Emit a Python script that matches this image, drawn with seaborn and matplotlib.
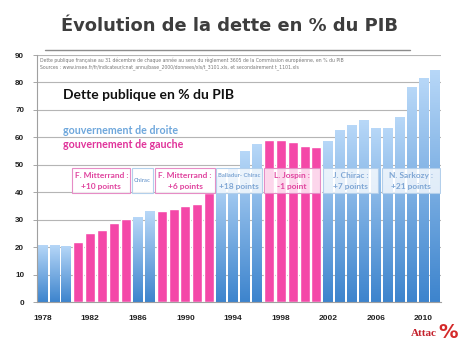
import numpy as np
import pandas as pd
import matplotlib
matplotlib.use("Agg")
import matplotlib.pyplot as plt
import seaborn as sns
from matplotlib.colors import LinearSegmentedColormap
from matplotlib.patches import Rectangle
from matplotlib.lines import Line2D

years = list(range(1978, 2012))
dette = [21.0, 21.0, 20.5, 21.9, 25.2, 26.4, 28.9, 30.4, 31.0, 33.1,
         33.1, 33.9, 35.1, 35.8, 39.8, 46.0, 49.0, 55.0, 57.6, 59.0,
         59.2, 58.5, 57.0, 56.5, 58.6, 62.8, 64.6, 66.2, 63.4, 63.6,
         67.6, 78.4, 81.7, 84.7]
gouv = (["droite"] * 3 + ["gauche"] * 5 + ["droite"] * 2 + ["gauche"] * 5 +
        ["droite"] * 4 + ["gauche"] * 5 + ["droite"] * 10)
year_ticks = list(range(1978, 2012, 4))
y_ticks = list(range(0, 100, 10))

periodes = ["F. Mitterrand :\n+10 points", "Chirac", "F. Mitterrand :\n+6 points",
            "Balladur- Chirac\n+18 points", "L. Jospin :\n-1 point",
            "J. Chirac :\n+7 points", "N. Sarkozy :\n+21 points"]
periode_gouv = ["gauche", "droite", "gauche", "droite", "gauche", "droite", "droite"]
periode_debut = [2.5, 7.48, 9.44, 14.56, 18.6, 23.55, 28.5]
periode_fin = [7.35, 9.3, 14.48, 18.45, 23.3, 28.2, 33.4]

PINK = "#f448a8"
BLUE_TOP = "#b8d8f8"
BLUE_BOT = "#3d84cd"

df = pd.DataFrame({"annee": [str(y) for y in years], "dette": dette, "gouv": gouv})

sns.set_style("white")
plt.rcParams["font.family"] = ["Lato", "DejaVu Sans"]

fig = plt.figure(figsize=(4.6, 3.45), dpi=100)
ax = fig.add_axes([36.7 / 460, 1 - 302.3 / 345, (441.4 - 36.7) / 460, (302.3 - 55) / 345])

sns.barplot(data=df, x="annee", y="dette", hue="gouv", dodge=False,
            palette={"droite": BLUE_BOT, "gauche": PINK}, width=0.84,
            saturation=1, legend=False, ax=ax, zorder=2)

cmap = LinearSegmentedColormap.from_list("bl", [BLUE_BOT, BLUE_TOP])
grad = np.linspace(0, 1, 256).reshape(-1, 1)
for p in list(ax.patches):
    x0, y0 = p.get_x(), p.get_y()
    w, h = p.get_width(), p.get_height()
    idx = int(round(x0 + w / 2))
    if 0 <= idx < len(gouv) and gouv[idx] == "droite" and h > 0:
        p.set_facecolor("none")
        p.set_edgecolor("none")
        im = ax.imshow(grad, extent=[x0, x0 + w, y0, y0 + h], origin="lower",
                       aspect="auto", cmap=cmap, zorder=2)
        im.set_clip_path(p)

ax.set_xlim(-0.5, 33.5)
ax.set_ylim(0, 90)
ax.set_yticks(y_ticks)
ax.set_yticklabels([str(v) for v in y_ticks], fontsize=5.8, fontweight="bold",
                   color="#222222", family="Liberation Sans")
ax.set_xticks([years.index(y) for y in year_ticks])
ax.set_xticklabels([str(y) for y in year_ticks], fontsize=6, fontweight="bold",
                   color="#222222", family="Liberation Sans")
ax.tick_params(axis="x", length=0, pad=9)
ax.tick_params(axis="y", length=3, width=0.6, color="#999999", pad=6, left=True)
ax.yaxis.grid(True, color="#b5b5b5", linewidth=0.8, zorder=0)
ax.set_axisbelow(True)
ax.set_xlabel("")
ax.set_ylabel("")
for s in ["top", "right"]:
    ax.spines[s].set_visible(False)
for s in ["left", "bottom"]:
    ax.spines[s].set_color("#a0a0a0")
    ax.spines[s].set_linewidth(0.8)

# period boxes
for lab, g, a, b in zip(periodes, periode_gouv, periode_debut, periode_fin):
    ec = "#e68cc6" if g == "gauche" else "#b3cfeb"
    tc = "#e0449f" if g == "gauche" else "#7fa6d4"
    ax.add_patch(Rectangle((a, 39.8), b - a, 9.0, facecolor="white", alpha=0.78,
                           edgecolor="none", zorder=3))
    ax.add_patch(Rectangle((a, 39.8), b - a, 9.0, facecolor="none",
                           edgecolor=ec, linewidth=0.8, zorder=4))
    lines = lab.split("\n")
    cx = (a + b) / 2
    if len(lines) == 1:
        ax.text(cx, 44.5, lines[0], ha="center", va="center", fontsize=4.2,
                color=tc, fontweight="bold", zorder=5)
    else:
        fs1 = 4.2 if lines[0].startswith("Balladur") else 6.0
        ax.text(cx, 46.0, lines[0], ha="center", va="center", fontsize=fs1,
                color=tc, fontweight="bold", zorder=5)
        ax.text(cx, 42.3, lines[1], ha="center", va="center", fontsize=6.0,
                color=tc, fontweight="bold", zorder=5)

# source text
ax.text(0.008, 88.2, "Dette publique française au 31 décembre de chaque année au sens du règlement 3605 de la Commission européenne, en % du PIB",
        transform=ax.get_yaxis_transform(), fontsize=3.3, color="#777777",
        va="center", ha="left", family="DejaVu Sans")
ax.text(0.008, 85.4, "Sources : www.insee.fr/fr/indicateur/cnat_annu/base_2000/donnees/xls/t_3101.xls, et secondairement t_1101.xls",
        transform=ax.get_yaxis_transform(), fontsize=3.3, color="#777777",
        va="center", ha="left", family="DejaVu Sans")

# title and headings
fig.text(0.5, 1 - 26 / 345, "Évolution de la dette en % du PIB", ha="center", va="center",
         fontsize=12.9, fontweight="bold", color="#3d3d3d", family="DejaVu Sans")
fig.add_artist(Line2D([45 / 460, 410 / 460], [1 - 50 / 345] * 2, color="#8c8c8c", lw=1))
fig.text(63 / 460, 1 - 95 / 345, "Dette publique en % du PIB", ha="left", va="center",
         fontsize=10, color="#111111", fontweight="bold")
fig.text(63 / 460, 1 - 130 / 345, "gouvernement de droite", ha="left", va="center",
         fontsize=7.7, color="#6ea7dc", fontweight="bold")
fig.text(63 / 460, 1 - 144 / 345, "gouvernement de gauche", ha="left", va="center",
         fontsize=7.7, color="#e0339a", fontweight="bold")

# logo
fig.text(437 / 460, 1 - 334 / 345, "Attac", ha="right", va="center", fontsize=8,
         color="#c4202b", fontweight="bold", family="Liberation Serif")
fig.text(448 / 460, 1 - 332 / 345, "%", ha="center", va="center", fontsize=14,
         color="#d42a2a", fontweight="bold", family="DejaVu Sans")

fig.savefig("out.png", dpi=100, facecolor="white")
